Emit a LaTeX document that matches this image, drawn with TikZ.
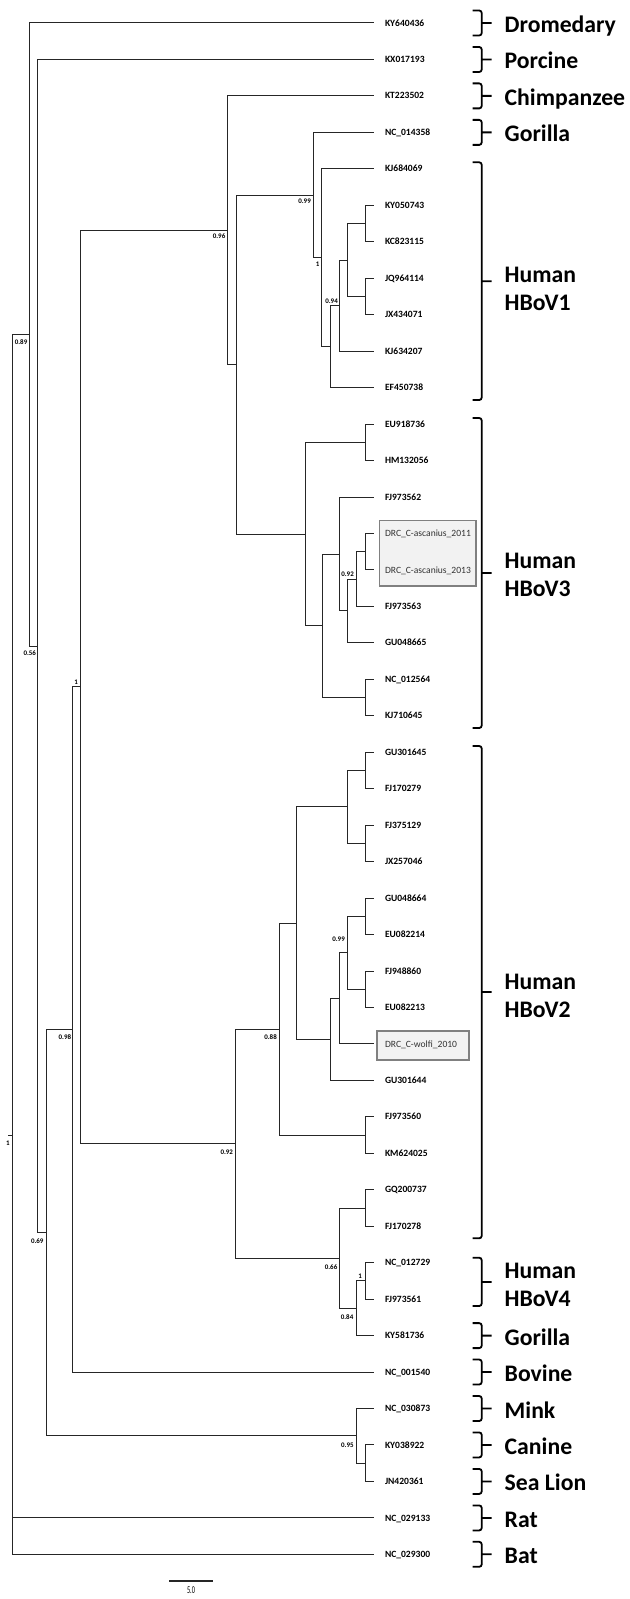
\documentclass[tikz,border=0pt]{standalone}
\usepackage{fontspec}
\setmainfont{Carlito}
\usepackage{tikz}
\usetikzlibrary{calc,positioning}

\begin{document}
\begin{tikzpicture}[x=1bp,y=-1bp,
  br/.style={line width=1bp,draw=black!85},
  leaf/.style={anchor=west,inner xsep=0pt,inner ysep=0pt,outer xsep=11bp,text height=6.2bp,text depth=0pt,font=\fontsize{9.6}{11}\selectfont\bfseries},
  drc/.style={leaf,font=\fontsize{9.6}{11}\selectfont,text=black!80},
  drcframe/.style={draw=black!50,fill=black!5,line width=1.7bp},
  sup/.style={inner sep=0pt,text height=4.5bp,text depth=0pt,font=\fontsize{7}{8}\selectfont\bfseries},
  brk/.style={line width=1.8bp,rounded corners=2.5bp},
  grp/.style={anchor=base west,inner sep=0pt,font=\fontsize{23.8}{28}\selectfont\bfseries}]
\useasboundingbox (0,0) rectangle (630,1599);

% boxes round the DRC sequences
\draw[drcframe] (379.5,520.4) rectangle (476,586);
\draw[drcframe] (377,1031) rectangle (469,1060);

% leaves
\node[leaf] (KY640436) at (374,23.0) {KY640436};
\node[leaf] (KX017193) at (374,59.5) {KX017193};
\node[leaf] (KT223502) at (374,95.9) {KT223502};
\node[leaf] (NC014358) at (374,132.4) {NC\_014358};
\node[leaf] (KJ684069) at (374,168.8) {KJ684069};
\node[leaf] (KY050743) at (374,205.3) {KY050743};
\node[leaf] (KC823115) at (374,241.8) {KC823115};
\node[leaf] (JQ964114) at (374,278.2) {JQ964114};
\node[leaf] (JX434071) at (374,314.7) {JX434071};
\node[leaf] (KJ634207) at (374,351.1) {KJ634207};
\node[leaf] (EF450738) at (374,387.6) {EF450738};
\node[leaf] (EU918736) at (374,424.1) {EU918736};
\node[leaf] (HM132056) at (374,460.5) {HM132056};
\node[leaf] (FJ973562) at (374,497.0) {FJ973562};
\node[drc] (DRCa2011) at (374,533.4) {DRC\_C-ascanius\_2011};
\node[drc] (DRCa2013) at (374,569.9) {DRC\_C-ascanius\_2013};
\node[leaf] (FJ973563) at (374,606.4) {FJ973563};
\node[leaf] (GU048665) at (374,642.8) {GU048665};
\node[leaf] (NC012564) at (374,679.3) {NC\_012564};
\node[leaf] (KJ710645) at (374,715.7) {KJ710645};
\node[leaf] (GU301645) at (374,752.2) {GU301645};
\node[leaf] (FJ170279) at (374,788.7) {FJ170279};
\node[leaf] (FJ375129) at (374,825.1) {FJ375129};
\node[leaf] (JX257046) at (374,861.6) {JX257046};
\node[leaf] (GU048664) at (374,898.0) {GU048664};
\node[leaf] (EU082214) at (374,934.5) {EU082214};
\node[leaf] (FJ948860) at (374,971.0) {FJ948860};
\node[leaf] (EU082213) at (374,1007.4) {EU082213};
\node[drc] (DRCw2010) at (374,1043.9) {DRC\_C-wolfi\_2010};
\node[leaf] (GU301644) at (374,1080.3) {GU301644};
\node[leaf] (FJ973560) at (374,1116.8) {FJ973560};
\node[leaf] (KM624025) at (374,1153.3) {KM624025};
\node[leaf] (GQ200737) at (374,1189.7) {GQ200737};
\node[leaf] (FJ170278) at (374,1226.2) {FJ170278};
\node[leaf] (NC012729) at (374,1262.6) {NC\_012729};
\node[leaf] (FJ973561) at (374,1299.1) {FJ973561};
\node[leaf] (KY581736) at (374,1335.6) {KY581736};
\node[leaf] (NC001540) at (374,1372.0) {NC\_001540};
\node[leaf] (NC030873) at (374,1408.5) {NC\_030873};
\node[leaf] (KY038922) at (374,1444.9) {KY038922};
\node[leaf] (JN420361) at (374,1481.4) {JN420361};
\node[leaf] (NC029133) at (374,1517.9) {NC\_029133};
\node[leaf] (NC029300) at (374,1554.3) {NC\_029300};

% inner nodes
\coordinate (v1a) at (365,223.6);
\coordinate (v1b) at (365,296.5);
\coordinate (v1c) at (347.5,260.0);
\coordinate (v1d) at (339,305.6);
\coordinate (v1e) at (330.5,346.6);
\coordinate (v1f) at (321.5,257.7);
\coordinate (v1g) at (313,195.1);
\coordinate (v3a) at (365,442.3);
\coordinate (v3b) at (365,551.7);
\coordinate (v3c) at (356.5,579.0);
\coordinate (v3d) at (347.5,610.9);
\coordinate (v3e) at (339,554.0);
\coordinate (v3f) at (365,697.5);
\coordinate (v3g) at (322,625.7);
\coordinate (v3h) at (305,534.0);
\coordinate (nB) at (236,364.5);
\coordinate (nA) at (227,230.2);
\coordinate (v2a) at (365,770.5);
\coordinate (v2b) at (365,843.4);
\coordinate (v2c) at (347.5,806.9);
\coordinate (v2d) at (365,916.3);
\coordinate (v2e) at (365,989.2);
\coordinate (v2f) at (347.5,952.7);
\coordinate (v2g) at (339,998.3);
\coordinate (v2h) at (330.5,1039.3);
\coordinate (v2i) at (296,923.1);
\coordinate (v2j) at (365,1135.1);
\coordinate (v2k) at (279,1029.1);
\coordinate (v2l) at (365,1208.0);
\coordinate (v4a) at (365,1280.9);
\coordinate (v4b) at (356,1308.2);
\coordinate (v4c) at (339,1258.1);
\coordinate (v2m) at (235.5,1143.6);
\coordinate (n1) at (80.7,686.9);
\coordinate (n098) at (72.3,1029.5);
\coordinate (cr) at (365,1463.2);
\coordinate (n095) at (356.5,1435.8);
\coordinate (n069) at (46.7,1232.6);
\coordinate (n056) at (37.7,646.1);
\coordinate (n089) at (29,334.5);
\coordinate (root) at (12.3,1135.6);
\coordinate (rootstub) at (8.3,1135.6);

% branches
\draw[br] (v1a) |- (KY050743.west) (v1a) |- (KC823115.west);
\draw[br] (v1b) |- (JQ964114.west) (v1b) |- (JX434071.west);
\draw[br] (v1c) |- (v1a) (v1c) |- (v1b);
\draw[br] (v1d) |- (v1c) (v1d) |- (KJ634207.west);
\draw[br] (v1e) |- (v1d) (v1e) |- (EF450738.west);
\draw[br] (v1f) |- (KJ684069.west) (v1f) |- (v1e);
\draw[br] (v1g) |- (NC014358.west) (v1g) |- (v1f);
\draw[br] (v3a) |- (EU918736.west) (v3a) |- (HM132056.west);
\draw[br] (v3b) |- (DRCa2011.west) (v3b) |- (DRCa2013.west);
\draw[br] (v3c) |- (v3b) (v3c) |- (FJ973563.west);
\draw[br] (v3d) |- (v3c) (v3d) |- (GU048665.west);
\draw[br] (v3e) |- (FJ973562.west) (v3e) |- (v3d);
\draw[br] (v3f) |- (NC012564.west) (v3f) |- (KJ710645.west);
\draw[br] (v3g) |- (v3e) (v3g) |- (v3f);
\draw[br] (v3h) |- (v3a) (v3h) |- (v3g);
\draw[br] (nB) |- (v1g) (nB) |- (v3h);
\draw[br] (nA) |- (KT223502.west) (nA) |- (nB);
\draw[br] (v2a) |- (GU301645.west) (v2a) |- (FJ170279.west);
\draw[br] (v2b) |- (FJ375129.west) (v2b) |- (JX257046.west);
\draw[br] (v2c) |- (v2a) (v2c) |- (v2b);
\draw[br] (v2d) |- (GU048664.west) (v2d) |- (EU082214.west);
\draw[br] (v2e) |- (FJ948860.west) (v2e) |- (EU082213.west);
\draw[br] (v2f) |- (v2d) (v2f) |- (v2e);
\draw[br] (v2g) |- (v2f) (v2g) |- (DRCw2010.west);
\draw[br] (v2h) |- (v2g) (v2h) |- (GU301644.west);
\draw[br] (v2i) |- (v2c) (v2i) |- (v2h);
\draw[br] (v2j) |- (FJ973560.west) (v2j) |- (KM624025.west);
\draw[br] (v2k) |- (v2i) (v2k) |- (v2j);
\draw[br] (v2l) |- (GQ200737.west) (v2l) |- (FJ170278.west);
\draw[br] (v4a) |- (NC012729.west) (v4a) |- (FJ973561.west);
\draw[br] (v4b) |- (v4a) (v4b) |- (KY581736.west);
\draw[br] (v4c) |- (v2l) (v4c) |- (v4b);
\draw[br] (v2m) |- (v2k) (v2m) |- (v4c);
\draw[br] (n1) |- (nA) (n1) |- (v2m);
\draw[br] (n098) |- (n1) (n098) |- (NC001540.west);
\draw[br] (cr) |- (KY038922.west) (cr) |- (JN420361.west);
\draw[br] (n095) |- (NC030873.west) (n095) |- (cr);
\draw[br] (n069) |- (n098) (n069) |- (n095);
\draw[br] (n056) |- (KX017193.west) (n056) |- (n069);
\draw[br] (n089) |- (KY640436.west) (n089) |- (n056);
\draw[br] (rootstub) -- (root) (root) |- (n089) (root) |- (NC029133.west) (root) |- (NC029300.west);

% support values
\node[sup,below left=4bp and 1.5bp of nA] (bsA) {0.96};
\node[sup,below left=3.6bp and 2bp of v1g] (bs1g) {0.99};
\node[sup,below left=4bp and 2bp of v1f] (bs1f) {1};
\node[sup,above left=2.2bp and 1bp of v1d] (bs1d) {0.94};
\node[sup,above left=2bp and 2.5bp of v3c] (bs3c) {0.92};
\node[sup,above left=11bp and 2.5bp of v2f] (bs2f) {0.99};
\node[sup,below left=5.3bp and 2bp of v2k] (bs2k) {0.88};
\node[sup,below left=5.8bp and 2.3bp of v2m] (bs2m) {0.92};
\node[sup,below left=6.3bp and 1.5bp of v4c] (bs4c) {0.66};
\node[sup,above left=1.8bp and 3bp of v4a] (bs4a) {1};
\node[sup,below left=6.2bp and 2.5bp of v4b] (bs4b) {0.84};
\node[sup,below left=6.9bp and 2.7bp of n095] (bs095) {0.95};
\node[sup,above left=2bp and 2.7bp of n1] (bs1) {1};
\node[sup,below left=5.5bp and 1bp of n098] (bs098) {0.98};
\node[sup,below left=5.8bp and 3bp of n069] (bs069) {0.69};
\node[sup,below left=5bp and 1.5bp of n056] (bs056) {0.56};
\node[sup,below left=5bp and 1.5bp of n089] (bs089) {0.89};
\node[sup,below=5.4bp of rootstub,xshift=-0.5bp] (bsroot) {1};

% host brackets
\draw[brk] (472.7,10.5) -| (481.7,35.5) -- (472.7,35.5) (481.7,23.0) -- (491.7,23.0);
\draw[brk] (472.7,47.0) -| (481.7,72.0) -- (472.7,72.0) (481.7,59.5) -- (491.7,59.5);
\draw[brk] (472.7,83.4) -| (481.7,108.4) -- (472.7,108.4) (481.7,95.9) -- (491.7,95.9);
\draw[brk] (472.7,119.9) -| (481.7,144.9) -- (472.7,144.9) (481.7,132.4) -- (491.7,132.4);
\draw[brk] (472.7,162.3) -| (481.7,400.0) -- (472.7,400.0) (481.7,281.2) -- (491.7,281.2);
\draw[brk] (472.7,418.0) -| (481.7,728.0) -- (472.7,728.0) (481.7,573.0) -- (491.7,573.0);
\draw[brk] (472.7,746.0) -| (481.7,1238.3) -- (472.7,1238.3) (481.7,992.0) -- (491.7,992.0);
\draw[brk] (472.7,1257.7) -| (481.7,1306.0) -- (472.7,1306.0) (481.7,1281.9) -- (491.7,1281.9);
\draw[brk] (472.7,1323.1) -| (481.7,1348.1) -- (472.7,1348.1) (481.7,1335.6) -- (491.7,1335.6);
\draw[brk] (472.7,1359.5) -| (481.7,1384.5) -- (472.7,1384.5) (481.7,1372.0) -- (491.7,1372.0);
\draw[brk] (472.7,1396.0) -| (481.7,1421.0) -- (472.7,1421.0) (481.7,1408.5) -- (491.7,1408.5);
\draw[brk] (472.7,1432.4) -| (481.7,1457.4) -- (472.7,1457.4) (481.7,1444.9) -- (491.7,1444.9);
\draw[brk] (472.7,1468.9) -| (481.7,1493.9) -- (472.7,1493.9) (481.7,1481.4) -- (491.7,1481.4);
\draw[brk] (472.7,1505.4) -| (481.7,1530.4) -- (472.7,1530.4) (481.7,1517.9) -- (491.7,1517.9);
\draw[brk] (472.7,1541.8) -| (481.7,1566.8) -- (472.7,1566.8) (481.7,1554.3) -- (491.7,1554.3);

% host names
\node[grp] (gDromedary) at (504.5,32.5) {Dromedary};
\node[grp] (gPorcine) at (504.5,69.0) {Porcine};
\node[grp] (gChimp) at (504.5,105.4) {Chimpanzee};
\node[grp] (gGorilla) at (504.5,141.9) {Gorilla};
\node[grp] (gHBoV1a) at (504.5,282.0) {Human};
\node[grp] (gHBoV1b) at (504.5,310.5) {HBoV1};
\node[grp] (gHBoV3a) at (504.5,568.0) {Human};
\node[grp] (gHBoV3b) at (504.5,596.5) {HBoV3};
\node[grp] (gHBoV2a) at (504.5,989.0) {Human};
\node[grp] (gHBoV2b) at (504.5,1017.5) {HBoV2};
\node[grp] (gHBoV4a) at (504.5,1278.0) {Human};
\node[grp] (gHBoV4b) at (504.5,1306.5) {HBoV4};
\node[grp] (gGorilla2) at (504.5,1345.1) {Gorilla};
\node[grp] (gBovine) at (504.5,1381.5) {Bovine};
\node[grp] (gMink) at (504.5,1418.0) {Mink};
\node[grp] (gCanine) at (504.5,1454.4) {Canine};
\node[grp] (gSeaLion) at (504.5,1490.9) {Sea Lion};
\node[grp] (gRat) at (504.5,1527.4) {Rat};
\node[grp] (gBat) at (504.5,1563.8) {Bat};

% scale bar
\coordinate (sbl) at (169.3,1581);
\coordinate (sbr) at (212.7,1581);
\draw[line width=1.3bp,draw=black!85] (sbl) -- (sbr);
\node[inner sep=0pt,font=\fontsize{10.5}{11}\selectfont,xscale=0.6,below=5bp of $(sbl)!0.5!(sbr)$] (sblab) {5.0};
\end{tikzpicture}
\end{document}
